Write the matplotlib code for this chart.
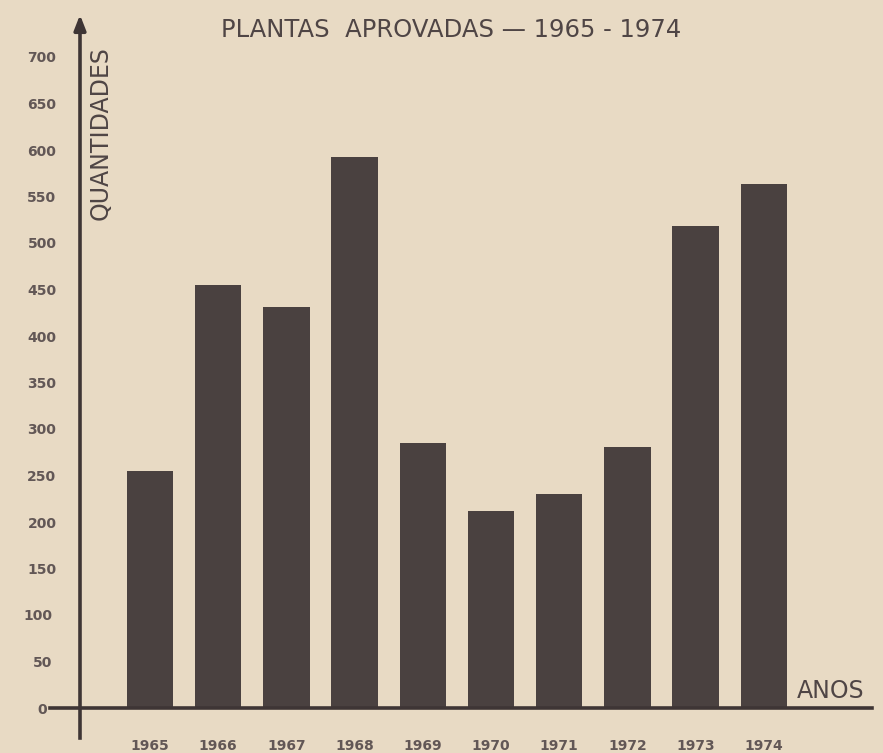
import matplotlib
matplotlib.use("Agg")
import matplotlib.pyplot as plt
import matplotlib.transforms as mtransforms

years = ["1965", "1966", "1967", "1968", "1969", "1970", "1971", "1972", "1973", "1974"]
values = [255, 455, 431, 592, 285, 212, 230, 281, 518, 563]
yticks = [0, 50, 100, 150, 200, 250, 300, 350, 400, 450, 500, 550, 600, 650, 700]

BG = "#e8dac4"
BAR = "#4a4140"
INK = "#4f4545"
TICK = "#625756"

W, H = 883, 753
fig = plt.figure(figsize=(W / 100, H / 100), dpi=100, facecolor=BG)
ax = fig.add_axes([0, 0, 1, 1], facecolor=BG)

# pixel mapping helpers
x0px, dxpx = 150.0, 68.2
y0px, dypx = 708.0, 0.93
def xi(px):
    return (px - x0px) / dxpx
def yv(py):
    return (y0px - py) / dypx

ax.set_xlim(xi(0), xi(W))
ax.set_ylim(yv(H), yv(0))

xs = list(range(len(years)))
ax.bar(xs, values, width=0.68, color=BAR, zorder=3)

# axes spines
for s in ["top", "right"]:
    ax.spines[s].set_visible(False)
ax.spines["left"].set_position(("data", xi(80)))
ax.spines["left"].set_bounds(yv(738), yv(22))
ax.spines["bottom"].set_position(("data", 0))
ax.spines["bottom"].set_bounds(xi(50), xi(872))
for s in ["left", "bottom"]:
    ax.spines[s].set_linewidth(2.6)
    ax.spines[s].set_color("#3e3535")
    ax.spines[s].set_zorder(4)

# arrow heads
ax.annotate("", xy=(xi(80), yv(12)), xytext=(xi(80), yv(30)),
            arrowprops=dict(arrowstyle="-|>,head_width=0.35,head_length=0.9",
                            color="#3e3535", lw=2.6))
ax.annotate("", xy=(xi(884), 0), xytext=(xi(866), 0),
            arrowprops=dict(arrowstyle="-|>,head_width=0.35,head_length=0.9",
                            color="#3e3535", lw=2.6))

ax.set_yticks(yticks)
ax.set_yticklabels([str(t) for t in yticks], fontsize=10, fontweight="bold", color=TICK)
ax.tick_params(axis="y", length=0, pad=17)
ax.set_xticks(xs)
ax.set_xticklabels(years, fontsize=10, fontweight="bold", color=TICK)
ax.tick_params(axis="x", length=0, pad=22)

# the lowest labels sit a little further left in the original
shifts = {0: -9, 1: -4, 2: -4}
for i, lab in enumerate(ax.get_yticklabels()):
    if i in shifts:
        off = mtransforms.ScaledTranslation(shifts[i] / 100, 0, fig.dpi_scale_trans)
        lab.set_transform(lab.get_transform() + off)

# texts
ax.text(xi(451), yv(30), "PLANTAS  APROVADAS — 1965 - 1974", ha="center", va="center",
        fontsize=17.5, color=INK)
ax.text(xi(101), yv(133), "QUANTIDADES", rotation=90, ha="center", va="center",
        fontsize=17, color=INK)
ax.text(xi(831), yv(703), "ANOS", ha="center", va="bottom", fontsize=17, color=INK)

fig.savefig("out.png", dpi=100, facecolor=BG)
